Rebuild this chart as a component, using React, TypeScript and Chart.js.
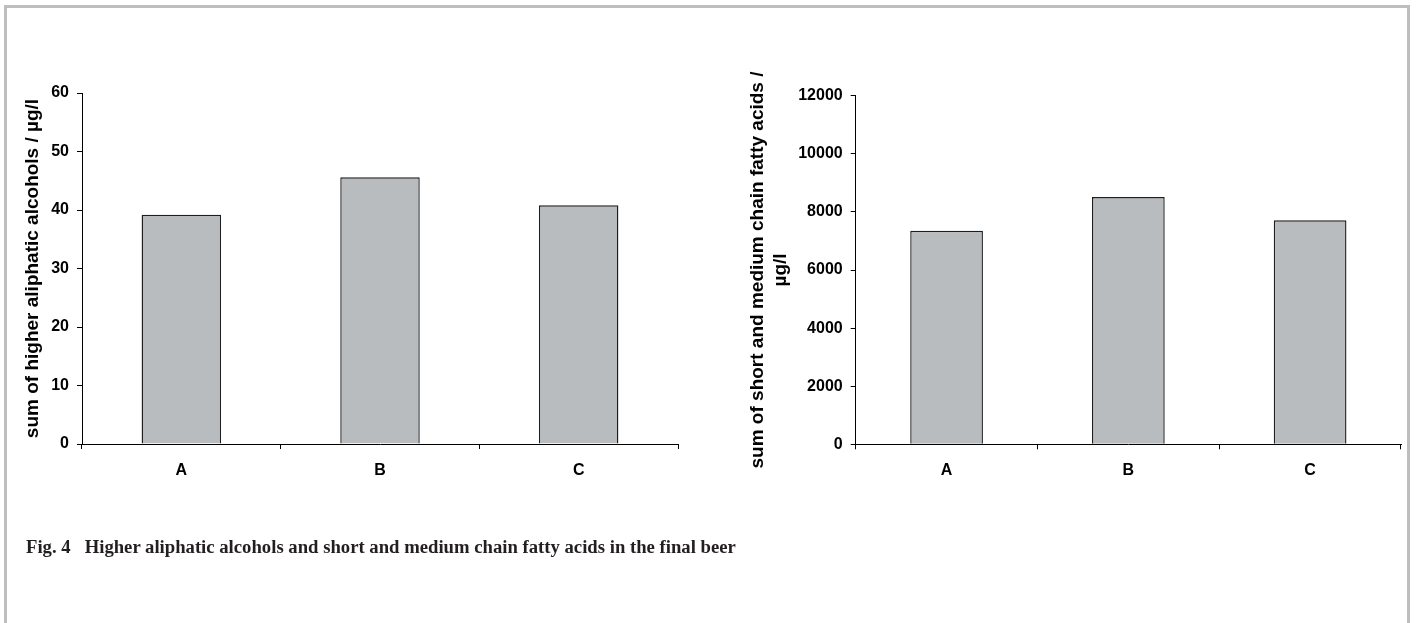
import React, { useEffect, useRef } from "react";
import { Chart, registerables } from "chart.js";

Chart.register(...registerables);

const categories = ["A", "B", "C"];
const alcoholValues = [39.2, 45.6, 40.8];
const fattyAcidValues = [7350, 8510, 7710];
const alcoholAxis = { min: 0, max: 60, step: 10 };
const fattyAxis = { min: 0, max: 12000, step: 2000 };
const alcoholTitle = "sum of higher aliphatic alcohols / µg/l";
const fattyTitle = ["sum of short and medium chain fatty acids /", "µg/l"];
const caption = "Fig. 4   Higher aliphatic alcohols and short and medium chain fatty acids in the final beer";

const SANS = "'Liberation Sans', Arial, sans-serif";
const BAR_FILL = "#b8bcbf";
const BAR_BORDER = "#1e1e1e";

type PanelProps = {
  width: number;
  height: number;
  values: number[];
  axis: { min: number; max: number; step: number };
  title: string | string[];
  pad: { left: number; right: number; top: number; bottom: number };
  yWidth: number;
  titlePad: number;
};

function BarPanel(props: PanelProps) {
  const ref = useRef<HTMLCanvasElement | null>(null);
  useEffect(() => {
    if (!ref.current) return;
    const chart = new Chart(ref.current, {
      type: "bar",
      data: {
        labels: categories,
        datasets: [
          {
            data: props.values,
            backgroundColor: BAR_FILL,
            borderColor: BAR_BORDER,
            borderWidth: 1.4,
            barPercentage: 0.4,
            categoryPercentage: 1,
          },
        ],
      },
      options: {
        responsive: false,
        animation: false,
        maintainAspectRatio: false,
        layout: { padding: props.pad },
        plugins: { legend: { display: false }, tooltip: { enabled: false } },
        scales: {
          x: {
            offset: true,
            grid: {
              offset: true,
              drawOnChartArea: false,
              drawTicks: true,
              tickLength: 5,
              color: "#000",
              lineWidth: 1,
            },
            border: { display: true, color: "#000", width: 1 },
            ticks: {
              color: "#000",
              padding: 12,
              font: { family: SANS, size: 16, weight: "bold" },
            },
            afterFit: (s: any) => {
              s.height = 40;
            },
          },
          y: {
            min: props.axis.min,
            max: props.axis.max,
            grid: {
              drawOnChartArea: false,
              drawTicks: true,
              tickLength: 5,
              color: "#000",
              lineWidth: 1,
            },
            border: { display: true, color: "#000", width: 1 },
            ticks: {
              stepSize: props.axis.step,
              color: "#000",
              padding: 8,
              font: { family: SANS, size: 16, weight: "bold" },
              callback: (v: any) => String(v),
            },
            title: {
              display: true,
              text: props.title,
              color: "#000",
              padding: { top: props.titlePad, bottom: 0 },
              font: { family: SANS, size: 19, weight: "bold", lineHeight: 1.2 },
            },
            afterFit: (s: any) => {
              s.width = props.yWidth;
            },
          },
        },
      },
    });
    return () => chart.destroy();
  }, []);
  return <canvas ref={ref} width={props.width} height={props.height} style={{ display: "block" }} />;
}

export default function App() {
  return (
    <div
      style={{
        position: "fixed",
        left: 0,
        top: 0,
        width: 1416,
        height: 623,
        overflow: "hidden",
        background: "#fff",
      }}
    >
      <div
        style={{
          position: "absolute",
          left: 4,
          top: 5,
          width: 1406,
          height: 700,
          boxSizing: "border-box",
          borderTop: "3px solid #bebebe",
          borderLeft: "3px solid #bebebe",
          borderRight: "3px solid #bebebe",
        }}
      />
      <div style={{ position: "absolute", left: 0, top: 0 }}>
        <BarPanel
          width={700}
          height={623}
          values={alcoholValues}
          axis={alcoholAxis}
          title={alcoholTitle}
          pad={{ left: 10, right: 22, top: 93, bottom: 139 }}
          yWidth={72}
          titlePad={11.6}
        />
      </div>
      <div style={{ position: "absolute", left: 700, top: 0 }}>
        <BarPanel
          width={716}
          height={623}
          values={fattyAcidValues}
          axis={fattyAxis}
          title={fattyTitle}
          pad={{ left: 10, right: 15, top: 95.7, bottom: 138.7 }}
          yWidth={145.7}
          titlePad={36.6}
        />
      </div>
      <div
        style={{
          position: "absolute",
          left: 26,
          top: 536,
          whiteSpace: "pre",
          fontFamily: "'Liberation Serif', 'Times New Roman', serif",
          fontWeight: "bold",
          fontSize: 18.7,
          lineHeight: "22px",
          color: "#231f20",
        }}
      >
        {caption}
      </div>
    </div>
  );
}
